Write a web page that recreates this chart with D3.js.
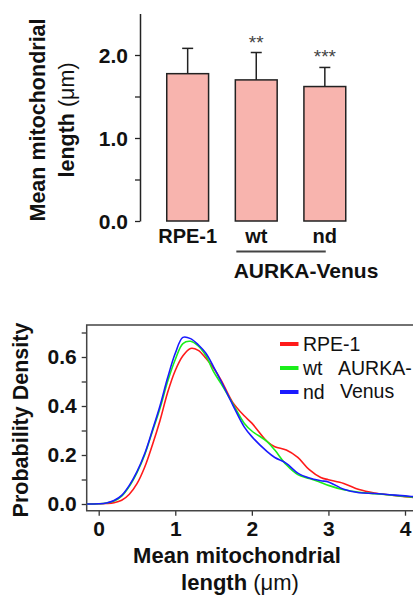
<!DOCTYPE html>
<html>
<head>
<meta charset="utf-8">
<script src="https://cdn.jsdelivr.net/npm/d3@7"></script>
<style>
  body { margin: 0; background: #fff; }
  svg { display: block; font-family: "Liberation Sans", Arial, sans-serif; }
  .bold { font-weight: bold; }
</style>
</head>
<body>
<div id="chart"></div>
<script>
// bar chart data
const groups = ["RPE-1", "wt", "nd"];
const means = [1.775, 1.70, 1.62];
const errs = [2.08, 2.03, 1.85];
const stars = ["", "**", "***"];
const barTicks = [0, 0.5, 1, 1.5, 2];

// density data
const lengths = [-0.16, 0, 0.1, 0.2, 0.3, 0.4, 0.5, 0.6, 0.7, 0.8, 0.9, 1.0, 1.1, 1.2, 1.3, 1.4, 1.5, 1.6, 1.75, 1.9, 2.0, 2.2, 2.3, 2.45, 2.6, 2.75, 2.9, 3.0, 3.2, 3.4, 3.6, 3.8, 4.0, 4.2];
const rpe1 = [0, 0.001, 0.002, 0.005, 0.015, 0.04, 0.083, 0.15, 0.24, 0.34, 0.455, 0.545, 0.605, 0.635, 0.627, 0.595, 0.555, 0.505, 0.415, 0.36, 0.33, 0.255, 0.234, 0.22, 0.19, 0.14, 0.108, 0.099, 0.084, 0.059, 0.045, 0.037, 0.03, 0.024];
const wt = [0, 0.001, 0.004, 0.012, 0.032, 0.072, 0.128, 0.2, 0.295, 0.39, 0.5, 0.59, 0.655, 0.664, 0.645, 0.605, 0.54, 0.49, 0.41, 0.33, 0.298, 0.255, 0.22, 0.16, 0.12, 0.104, 0.088, 0.076, 0.058, 0.048, 0.042, 0.037, 0.031, 0.025];
const nd = [0, 0.001, 0.004, 0.014, 0.035, 0.076, 0.132, 0.205, 0.3, 0.4, 0.515, 0.615, 0.68, 0.675, 0.65, 0.615, 0.56, 0.5, 0.405, 0.315, 0.275, 0.214, 0.19, 0.166, 0.126, 0.106, 0.095, 0.09, 0.06, 0.046, 0.043, 0.038, 0.033, 0.027];
const seriesNames = ["RPE-1", "wt", "nd"];
const seriesColors = ["#ff1a1a", "#1aee1a", "#1a1aff"];

const svg = d3.select("#chart").append("svg")
    .attr("width", 413)
    .attr("height", 598);

// ---------- top: bar chart ----------
const yBar = d3.scaleLinear().domain([0, 2.5]).range([221, 13.5]);
const xBar = d3.scaleBand().domain(groups).range([140, 372.5]).padding(0.39);

const topG = svg.append("g");

topG.append("g")
    .attr("transform", "translate(140,0)")
    .call(d3.axisLeft(yBar).tickValues(barTicks).tickSize(5).tickSizeOuter(0)
        .tickFormat(d => d % 1 === 0 ? d3.format(".1f")(d) : ""))
    .call(g => g.select(".domain").attr("stroke", "#222").attr("stroke-width", 1.5))
    .call(g => g.selectAll(".tick line").attr("stroke", "#222").attr("stroke-width", 1.3))
    .call(g => g.selectAll("text").attr("class", "bold").attr("font-size", 21)
        .attr("fill", "#111").attr("x", -12).attr("dy", "0.36em"));

const bars = topG.selectAll(".bar").data(groups).enter().append("g");

bars.append("line")
    .attr("x1", d => xBar(d) + xBar.bandwidth() / 2)
    .attr("x2", d => xBar(d) + xBar.bandwidth() / 2)
    .attr("y1", (d, i) => yBar(means[i]))
    .attr("y2", (d, i) => yBar(errs[i]))
    .attr("stroke", "#222").attr("stroke-width", 1.5);

bars.append("line")
    .attr("x1", d => xBar(d) + xBar.bandwidth() / 2 - 5.5)
    .attr("x2", d => xBar(d) + xBar.bandwidth() / 2 + 5.5)
    .attr("y1", (d, i) => yBar(errs[i]))
    .attr("y2", (d, i) => yBar(errs[i]))
    .attr("stroke", "#222").attr("stroke-width", 1.5);

bars.append("rect")
    .attr("x", d => xBar(d))
    .attr("y", (d, i) => yBar(means[i]))
    .attr("width", xBar.bandwidth())
    .attr("height", (d, i) => yBar(0) - yBar(means[i]))
    .attr("fill", "#f8b4ae")
    .attr("stroke", "#222")
    .attr("stroke-width", 1.5);

bars.append("text")
    .attr("x", d => xBar(d) + xBar.bandwidth() / 2)
    .attr("y", (d, i) => yBar(errs[i]) - 4)
    .attr("text-anchor", "middle")
    .attr("font-size", 19)
    .attr("fill", "#444")
    .text((d, i) => stars[i]);

topG.selectAll(".xlab").data(groups).enter().append("text")
    .attr("class", "bold")
    .attr("x", d => xBar(d) + xBar.bandwidth() / 2)
    .attr("y", 243)
    .attr("text-anchor", "middle")
    .attr("font-size", 20)
    .attr("fill", "#111")
    .text(d => d);

topG.append("line")
    .attr("x1", xBar("wt") + 1).attr("x2", xBar("nd") + xBar.bandwidth() - 20)
    .attr("y1", 251.5).attr("y2", 251.5)
    .attr("stroke", "#444").attr("stroke-width", 2);

topG.append("text")
    .attr("class", "bold")
    .attr("x", 306).attr("y", 278)
    .attr("text-anchor", "middle")
    .attr("font-size", 21)
    .attr("fill", "#111")
    .text("AURKA-Venus");

const yt = topG.append("text")
    .attr("class", "bold")
    .attr("transform", "translate(45,120) rotate(-90)")
    .attr("text-anchor", "middle")
    .attr("font-size", 21.5)
    .attr("fill", "#111");
yt.append("tspan").attr("x", 0).attr("y", 0).text("Mean mitochondrial");
const yt2 = yt.append("tspan").attr("x", 0).attr("y", 29);
yt2.append("tspan").text("length ");
yt2.append("tspan").attr("font-weight", "normal").text("(\u03bcm)");

// ---------- bottom: density plot ----------
const x = d3.scaleLinear().domain([0, 4]).range([98.7, 405]);
const y = d3.scaleLinear().domain([0, 0.7]).range([504, 332.5]);
const left = 86.7, right = 430, topY = 325, bottom = 510.7;

const bot = svg.append("g");

bot.append("clipPath").attr("id", "clip")
    .append("rect").attr("x", left).attr("y", topY)
    .attr("width", right - left).attr("height", bottom - topY);

bot.append("g")
    .attr("transform", `translate(${left},0)`)
    .call(d3.axisLeft(y).ticks(7).tickSize(5).tickSizeOuter(0)
        .tickFormat(d => Math.round(d * 10) % 2 === 0 ? d3.format(".1f")(d) : ""))
    .call(g => g.select(".domain").remove())
    .call(g => g.selectAll(".tick line").attr("stroke", "#333").attr("stroke-width", 1.3))
    .call(g => g.selectAll("text").attr("class", "bold").attr("font-size", 21)
        .attr("fill", "#111").attr("x", -10).attr("dy", "0.33em"));

bot.append("g")
    .attr("transform", `translate(0,${bottom})`)
    .call(d3.axisBottom(x).ticks(4).tickSize(5).tickSizeOuter(0).tickFormat(d3.format("d")))
    .call(g => g.select(".domain").remove())
    .call(g => g.selectAll(".tick line").attr("stroke", "#333").attr("stroke-width", 1.3))
    .call(g => g.selectAll("text").attr("class", "bold").attr("font-size", 21)
        .attr("fill", "#111").attr("y", 10.5).attr("dy", "0.71em"));

bot.append("path")
    .attr("d", `M${right},${topY}H${left}V${bottom}H${right}`)
    .attr("fill", "none")
    .attr("stroke", "#444")
    .attr("stroke-width", 1.5);

const line = d3.line()
    .x((d, i) => x(lengths[i]))
    .y(d => y(d))
    .curve(d3.curveCatmullRom);

bot.append("g").attr("clip-path", "url(#clip)")
    .selectAll("path").data([rpe1, wt, nd]).enter().append("path")
    .attr("d", line)
    .attr("fill", "none")
    .attr("stroke", (d, i) => seriesColors[i])
    .attr("stroke-width", 1.6);

// legend
const leg = bot.selectAll(".leg").data(seriesNames).enter().append("g")
    .attr("transform", (d, i) => `translate(280,${344 + i * 24})`);
leg.append("line")
    .attr("x1", 0).attr("x2", 18.5)
    .attr("stroke", (d, i) => seriesColors[i])
    .attr("stroke-width", 4);
leg.append("text")
    .attr("x", 23).attr("y", 6.5)
    .attr("font-size", 19.5)
    .attr("fill", "#111")
    .text(d => d);

bot.append("text").attr("x", 338).attr("y", 375).attr("font-size", 19.5).attr("fill", "#111").text("AURKA-");
bot.append("text").attr("x", 340).attr("y", 398).attr("font-size", 19.5).attr("fill", "#111").text("Venus");

const xt = bot.append("text")
    .attr("class", "bold")
    .attr("text-anchor", "middle")
    .attr("font-size", 22)
    .attr("fill", "#111");
xt.append("tspan").attr("x", 237).attr("y", 563).text("Mean mitochondrial");
const xt2 = xt.append("tspan").attr("x", 240).attr("y", 590);
xt2.append("tspan").text("length ");
xt2.append("tspan").attr("font-weight", "normal").text("(\u03bcm)");

bot.append("text")
    .attr("class", "bold")
    .attr("transform", "translate(28,420) rotate(-90)")
    .attr("text-anchor", "middle")
    .attr("font-size", 21.5)
    .attr("fill", "#111")
    .text("Probability Density");
</script>
</body>
</html>
